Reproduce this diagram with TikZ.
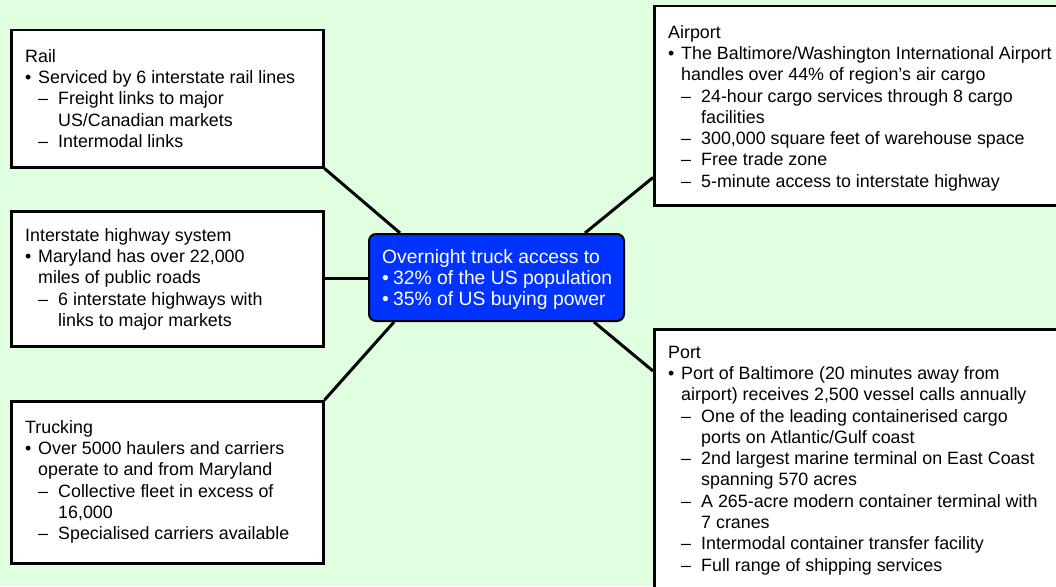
\documentclass[tikz,border=0pt]{standalone}
\usepackage{fontspec}
\setmainfont{Liberation Sans}
\usetikzlibrary{calc,backgrounds}
\definecolor{bg}{RGB}{224,255,224}
\definecolor{hub}{RGB}{0,51,255}
\newcommand\bl{\makebox[13pt][l]{•}}
\newcommand\bc{\hspace*{13pt}}
\newcommand\dl{\hspace*{13pt}\makebox[20pt][l]{–}}
\newcommand\dc{\hspace*{33pt}}
\begin{document}
\begin{tikzpicture}[x=1pt,y=-1pt,
  box/.style={draw=black,line width=2.5pt,fill=white,rectangle,inner sep=0pt,anchor=north west},
  txt/.style={anchor=north west,inner sep=0pt,align=left,font=\fontsize{17.85}{21.3}\selectfont},
  link/.style={draw=black,line width=3pt}]
\useasboundingbox (0,0) rectangle (1056,586);
\clip (0,0) rectangle (1056,586);
% boxes
\node[box,minimum width=312pt,minimum height=137pt] (rail) at (10,29) {};
\node[box,minimum width=312pt,minimum height=135pt] (hwy) at (10,210) {};
\node[box,minimum width=312pt,minimum height=162pt] (truck) at (10,400) {};
\node[box,minimum width=417pt,minimum height=199pt] (air) at (653,5) {};
\node[box,minimum width=417pt,minimum height=272pt] (port) at (653,328) {};
\node[draw=black,line width=2pt,fill=hub,rounded corners=7pt,inner sep=0pt,anchor=north west,
      minimum width=255pt,minimum height=87pt] (hub) at (368,233) {};
% texts
\node[txt] (railtxt) at (25,47) {\strut Rail\\
\bl Serviced by 6 interstate rail lines\\
\dl Freight links to major\\
\dc US/Canadian markets\\
\dl Intermodal links};
\node[txt] (hwytxt) at (25,226) {\strut Interstate highway system\\
\bl Maryland has over 22,000\\
\bc miles of public roads\\
\dl 6 interstate highways with\\
\dc links to major markets};
\node[txt] (trucktxt) at (25,418) {\strut Trucking\\
\bl Over 5000 haulers and carriers\\
\bc operate to and from Maryland\\
\dl Collective fleet in excess of\\
\dc 16,000\\
\dl Specialised carriers available};
\node[txt] (airtxt) at (668,23) {\strut Airport\\
\bl The Baltimore/Washington International Airport\\
\bc handles over 44\% of region’s air cargo\\
\dl 24-hour cargo services through 8 cargo\\
\dc facilities\\
\dl 300,000 square feet of warehouse space\\
\dl Free trade zone\\
\dl 5-minute access to interstate highway};
\node[txt] (porttxt) at (668,343) {\strut Port\\
\bl Port of Baltimore (20 minutes away from\\
\bc airport) receives 2,500 vessel calls annually\\
\dl One of the leading containerised cargo\\
\dc ports on Atlantic/Gulf coast\\
\dl 2nd largest marine terminal on East Coast\\
\dc spanning 570 acres\\
\dl A 265-acre modern container terminal with\\
\dc 7 cranes\\
\dl Intermodal container transfer facility\\
\dl Full range of shipping services};
\node[txt,text=white,font=\fontsize{19.3}{21}\selectfont] (hubtxt) at (382,248.3) {\strut Overnight truck access to\\
\makebox[11pt][l]{•}32\% of the US population\\
\makebox[11pt][l]{•}35\% of US buying power};
% connectors and background
\begin{scope}[on background layer]
\fill[bg] (0,0) rectangle (1056,586);
\draw[link] (rail.south east) -- ($(hub.north west)+(32,0)$);
\draw[link] (hwy.east) -- (hwy.east -| hub.west);
\draw[link] (truck.north east) -- ($(hub.south west)+(26,0)$);
\draw[link] ($(hub.north east)+(-40,0)$) -- ($(air.south west)+(0,-29)$);
\draw[link] ($(hub.south east)+(-31,0)$) -- ($(port.north west)+(0,43)$);
\end{scope}
\end{tikzpicture}
\end{document}
